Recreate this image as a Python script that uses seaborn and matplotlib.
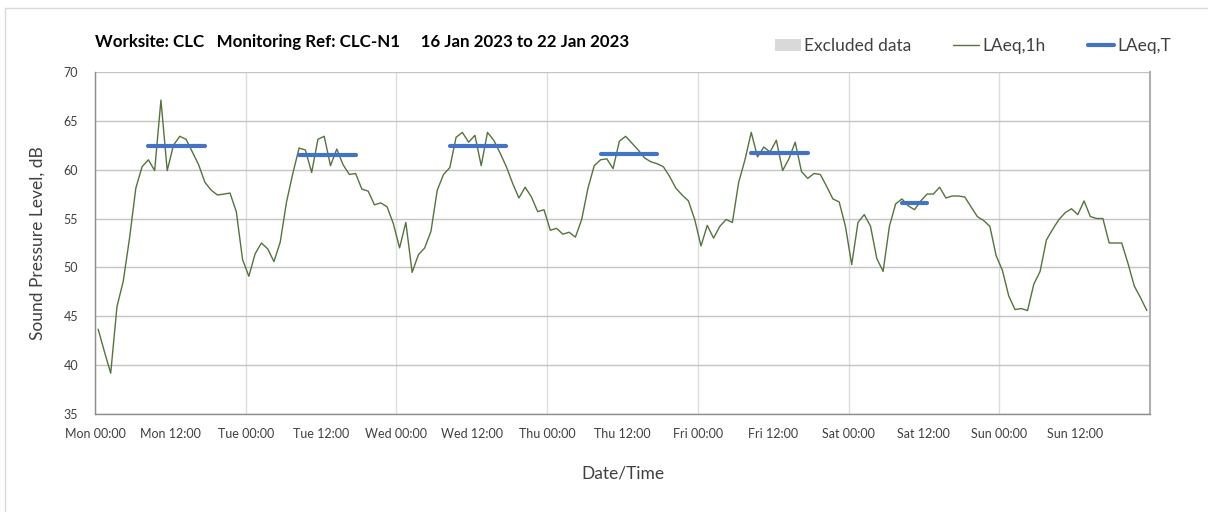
import numpy as np
import pandas as pd
import matplotlib
matplotlib.use("Agg")
import matplotlib.pyplot as plt
from matplotlib.patches import Patch, Rectangle
from matplotlib.lines import Line2D
import seaborn as sns

# ------------------------------------------------------------
# Dados
# ------------------------------------------------------------
days = ["Mon", "Tue", "Wed", "Thu", "Fri", "Sat", "Sun"]

# LAeq,1h - um valor por hora, Mon 00:00 -> Sun 23:00
laeq_1h = [
    43.7, 41.4, 39.2, 46.0, 48.6, 53.0, 58.1, 60.3, 61.0, 59.9, 67.1, 59.9,
    62.5, 63.4, 63.1, 61.8, 60.5, 58.7, 57.9, 57.4, 57.5, 57.6, 55.7, 50.8,
    49.1, 51.4, 52.5, 51.9, 50.6, 52.6, 56.7, 59.6, 62.2, 62.0, 59.7, 63.1,
    63.4, 60.4, 62.1, 60.5, 59.5, 59.6, 58.0, 57.8, 56.4, 56.6, 56.2, 54.5,
    52.0, 54.6, 49.5, 51.3, 52.0, 53.7, 57.9, 59.5, 60.2, 63.3, 63.8, 62.8,
    63.5, 60.4, 63.8, 63.0, 61.7, 60.3, 58.6, 57.1, 58.2, 57.2, 55.7, 55.9,
    53.8, 54.0, 53.4, 53.6, 53.1, 54.9, 58.1, 60.4, 61.0, 61.1, 60.1, 62.9,
    63.4, 62.7, 62.0, 61.2, 60.8, 60.6, 60.3, 59.3, 58.1, 57.4, 56.8, 54.9,
    52.2, 54.3, 53.0, 54.2, 54.9, 54.6, 58.7, 61.0, 63.8, 61.3, 62.3, 61.8,
    63.0, 59.9, 61.1, 62.8, 59.8, 59.1, 59.6, 59.5, 58.3, 57.0, 56.7, 54.2,
    50.3, 54.6, 55.4, 54.2, 50.9, 49.6, 54.2, 56.5, 57.0, 56.3, 55.9, 56.8,
    57.5, 57.5, 58.2, 57.1, 57.3, 57.3, 57.2, 56.2, 55.2, 54.8, 54.2, 51.2,
    49.7, 47.1, 45.7, 45.8, 45.6, 48.3, 49.6, 52.8, 53.9, 54.9, 55.6, 56.0,
    55.4, 56.8, 55.2, 55.0, 55.0, 52.5, 52.5, 52.5, 50.4, 48.1, 46.9, 45.6,
]

# LAeq,T - periodos (hora inicial, hora final, nivel)
period_start = [8, 32, 56, 80, 104, 128]
period_end = [17, 41, 65, 89, 113, 132]
period_level = [62.4, 61.5, 62.4, 61.6, 61.7, 56.6]

title = "Worksite: CLC   Monitoring Ref: CLC-N1     16 Jan 2023 to 22 Jan 2023"

# ------------------------------------------------------------
# Estilo
# ------------------------------------------------------------
sns.set_theme(style="white")
plt.rcParams["font.family"] = ["Lato", "DejaVu Sans"]

GREEN = "#56733f"
BLUE = "#4472c4"
TXT = "#404040"

df = pd.DataFrame({"hour": np.arange(len(laeq_1h)) + 0.5, "level": laeq_1h})

rows = []
for k, (s, e, lv) in enumerate(zip(period_start, period_end, period_level)):
    rows.append({"seg": k, "hour": s + 0.5, "level": lv})
    rows.append({"seg": k, "hour": e + 0.5, "level": lv})
per = pd.DataFrame(rows)

fig = plt.figure(figsize=(12.08, 5.12), dpi=100)
ax = fig.add_axes([95 / 1208, 1 - 414.3 / 512, (1150 - 95) / 1208, (414.3 - 71.7) / 512])

sns.lineplot(data=df, x="hour", y="level", color=GREEN, linewidth=1.0, ax=ax)
sns.lineplot(data=per, x="hour", y="level", units="seg", estimator=None,
             color=BLUE, linewidth=3.0, ax=ax)

ax.set_xlim(0, 168)
ax.set_ylim(35, 70)
ax.set_yticks(np.arange(35, 71, 5))

ax.set_xticks(np.arange(0, 169, 24))
ax.set_xticklabels([f"{d} 00:00" for d in days] + [""])
ax.set_xticks(np.arange(12, 168, 24), minor=True)
ax.set_xticklabels([f"{d} 12:00" for d in days], minor=True)

ax.grid(True, axis="y", color="#c4c4c4", linewidth=1.0)
ax.grid(True, axis="x", which="major", color="#dddddd", linewidth=1.0)
ax.set_axisbelow(True)

for side in ["left", "bottom"]:
    ax.spines[side].set_color("#8c8c8c")
    ax.spines[side].set_linewidth(1.0)
ax.spines["right"].set_color("#b0b0b0")
ax.spines["right"].set_linewidth(1.5)
ax.spines["top"].set_visible(False)

ax.tick_params(axis="both", which="both", direction="out", length=4, width=1,
               color="#8c8c8c", labelsize=9, labelcolor=TXT, pad=6)
ax.tick_params(axis="y", pad=8)

ax.set_xlabel("Date/Time", fontsize=12.5, color=TXT, labelpad=18)
ax.set_ylabel("Sound Pressure Level, dB", fontsize=12.5, color=TXT, labelpad=13)

fig.text(95 / 1208, 1 - 42 / 512, title, fontsize=12.2, fontweight="bold",
         color="black", ha="left", va="center")

handles = [
    Patch(facecolor="#d9d9d9", edgecolor="none"),
    Line2D([0], [0], color=GREEN, linewidth=1.0),
    Line2D([0], [0], color=BLUE, linewidth=3.0),
]
fig.legend(handles, ["Excluded data", "LAeq,1h", "LAeq,T"], ncol=3,
           loc="center right", bbox_to_anchor=(1171 / 1208, 1 - 46 / 512),
           frameon=False, fontsize=12.5, handlelength=1.5, handletextpad=0.2,
           columnspacing=2.4, borderpad=0, borderaxespad=0, labelcolor=TXT)

# moldura externa clara
fig.patches.append(Rectangle((5 / 1208, -0.1), 1.2, 1 - 8 / 512 + 0.1,
                             transform=fig.transFigure, fill=False,
                             edgecolor="#d9d9d9", linewidth=1.0))

fig.savefig("out.png", dpi=100)
